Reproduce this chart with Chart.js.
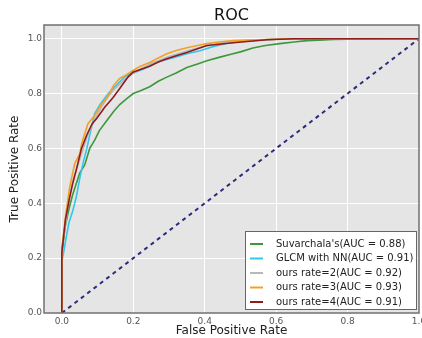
<!DOCTYPE html>
<html>
<head>
<meta charset="utf-8">
<script src="https://cdn.jsdelivr.net/npm/chart.js@4"></script>
<style>
  html, body { margin: 0; padding: 0; background: #fff; }
  #wrap { width: 422px; height: 338px; }
</style>
</head>
<body>
<div id="wrap"><canvas id="myChart" width="422" height="338"></canvas></div>
<script>
// ROC curves
const suvX = [0, 0, 0.005, 0.01, 0.02, 0.03, 0.04, 0.05, 0.064, 0.078, 0.092, 0.105, 0.125, 0.145, 0.162, 0.18, 0.2, 0.22, 0.246, 0.27, 0.294, 0.32, 0.35, 0.38, 0.406, 0.44, 0.479, 0.5, 0.535, 0.57, 0.61, 0.65, 0.686, 0.72, 0.76, 0.8, 0.9, 1.0];
const suvY = [0, 0.22, 0.27, 0.32, 0.38, 0.43, 0.47, 0.51, 0.54, 0.6, 0.63, 0.665, 0.7, 0.735, 0.76, 0.78, 0.8, 0.81, 0.825, 0.845, 0.86, 0.875, 0.895, 0.908, 0.92, 0.932, 0.945, 0.952, 0.966, 0.975, 0.982, 0.988, 0.993, 0.995, 0.997, 0.998, 1.0, 1.0];

const glcmX = [0, 0, 0.005, 0.01, 0.02, 0.03, 0.04, 0.05, 0.06, 0.07, 0.08, 0.092, 0.107, 0.13, 0.16, 0.18, 0.2, 0.23, 0.256, 0.28, 0.31, 0.35, 0.387, 0.42, 0.46, 0.5, 0.55, 0.6, 0.7, 1.0];
const glcmY = [0, 0.19, 0.22, 0.26, 0.33, 0.37, 0.42, 0.49, 0.55, 0.6, 0.66, 0.727, 0.76, 0.8, 0.84, 0.865, 0.875, 0.89, 0.91, 0.92, 0.93, 0.945, 0.956, 0.97, 0.983, 0.99, 0.995, 0.998, 1.0, 1.0];

const r2X = [0, 0, 0.01, 0.02, 0.03, 0.05, 0.07, 0.09, 0.11, 0.13, 0.15, 0.18, 0.2, 0.25, 0.3, 0.35, 0.4, 0.45, 0.5, 0.6, 0.7, 1.0];
const r2Y = [0, 0.24, 0.32, 0.42, 0.48, 0.56, 0.64, 0.7, 0.75, 0.79, 0.82, 0.855, 0.875, 0.91, 0.935, 0.955, 0.972, 0.985, 0.992, 0.998, 1.0, 1.0];

const r3X = [0, 0, 0.005, 0.01, 0.022, 0.036, 0.05, 0.056, 0.073, 0.092, 0.11, 0.126, 0.145, 0.162, 0.18, 0.199, 0.22, 0.246, 0.27, 0.294, 0.32, 0.35, 0.38, 0.406, 0.44, 0.479, 0.52, 0.574, 0.65, 1.0];
const r3Y = [0, 0.23, 0.29, 0.35, 0.46, 0.545, 0.58, 0.62, 0.69, 0.72, 0.76, 0.785, 0.83, 0.855, 0.868, 0.884, 0.9, 0.913, 0.93, 0.945, 0.957, 0.967, 0.975, 0.982, 0.988, 0.993, 0.995, 0.997, 1.0, 1.0];

const r4X = [0, 0, 0.005, 0.01, 0.02, 0.03, 0.04, 0.055, 0.07, 0.085, 0.098, 0.12, 0.143, 0.16, 0.171, 0.185, 0.199, 0.22, 0.246, 0.27, 0.294, 0.32, 0.35, 0.38, 0.406, 0.44, 0.48, 0.574, 0.65, 1.0];
const r4Y = [0, 0.22, 0.28, 0.34, 0.41, 0.47, 0.52, 0.6, 0.65, 0.69, 0.71, 0.75, 0.785, 0.815, 0.835, 0.86, 0.878, 0.888, 0.9, 0.915, 0.927, 0.938, 0.95, 0.963, 0.975, 0.98, 0.985, 0.996, 1.0, 1.0];

const chanceX = [0, 1];
const chanceY = [0, 1];

const labels = [
  "Suvarchala's(AUC = 0.88)",
  "GLCM with NN(AUC = 0.91)",
  "ours rate=2(AUC = 0.92)",
  "ours rate=3(AUC = 0.93)",
  "ours rate=4(AUC = 0.91)",
];
const colors = ["#3c983c", "#35c6ec", "#b8b8b8", "#f2a02a", "#8e1c1c"];
const tickVals = [0, 0.2, 0.4, 0.6, 0.8, 1.0];

const pts = (xs, ys) => xs.map((x, i) => ({ x: x, y: ys[i] }));

const series = [[suvX, suvY], [glcmX, glcmY], [r2X, r2Y], [r3X, r3Y], [r4X, r4Y]];
const datasets = series.map((s, i) => ({
  label: labels[i],
  data: pts(s[0], s[1]),
  borderColor: colors[i],
  borderWidth: 1.6,
  pointRadius: 0,
  showLine: true,
  tension: 0,
  order: 5 - i,
}));
datasets.push({
  label: "chance",
  data: pts(chanceX, chanceY),
  borderColor: "#2b2b7e",
  borderWidth: 2,
  borderDash: [4, 4],
  pointRadius: 0,
  showLine: true,
  order: 10,
});

const frame = {
  id: "frame",
  beforeDraw(chart) {
    const a = chart.chartArea;
    const c = chart.ctx;
    c.save();
    c.fillStyle = "#e5e5e5";
    c.fillRect(a.left, a.top, a.right - a.left, a.bottom - a.top);
    c.restore();
  },
  afterDraw(chart) {
    const a = chart.chartArea;
    const c = chart.ctx;
    c.save();
    c.strokeStyle = "#707070";
    c.lineWidth = 1.5;
    c.strokeRect(a.left, a.top, a.right - a.left, a.bottom - a.top);

    // title
    c.fillStyle = "#111";
    c.font = "16px 'DejaVu Sans'";
    c.textAlign = "center";
    c.textBaseline = "middle";
    c.fillText("ROC", (a.left + a.right) / 2, 16);

    // legend
    const bx = 245, by = 231, bw = 171, bh = 78;
    c.fillStyle = "#fff";
    c.fillRect(bx, by, bw, bh);
    c.strokeStyle = "#666";
    c.lineWidth = 1;
    c.strokeRect(bx + 0.5, by + 0.5, bw, bh);
    c.font = "10px 'DejaVu Sans'";
    c.textAlign = "left";
    labels.forEach((t, i) => {
      const y = 244 + i * 14.5;
      c.strokeStyle = colors[i];
      c.lineWidth = 2;
      c.beginPath();
      c.moveTo(250, y);
      c.lineTo(263, y);
      c.stroke();
      c.fillStyle = "#222";
      c.fillText(t, 276, y);
    });
    c.restore();
  },
};

const setTicks = (scale) => {
  scale.ticks = tickVals.map((v) => ({ value: v }));
};

new Chart(document.getElementById("myChart"), {
  type: "scatter",
  data: { datasets: datasets },
  plugins: [frame],
  options: {
    responsive: false,
    animation: false,
    layout: { padding: { top: 25, right: 3, left: 0, bottom: 0 } },
    plugins: {
      legend: { display: false },
      title: { display: false },
      tooltip: { enabled: false },
    },
    scales: {
      x: {
        type: "linear",
        min: -0.05,
        max: 1.0,
        afterBuildTicks: setTicks,
        afterFit(scale) {
          scale.height = 25;
          scale.paddingLeft = 0;
          scale.paddingRight = 0;
        },
        grid: { color: "#ffffff", lineWidth: 1, drawTicks: false },
        border: { display: false },
        ticks: {
          padding: 3,
          color: "#555",
          font: { family: "DejaVu Sans", size: 9 },
          callback: (v) => v.toFixed(1),
        },
        title: {
          display: true,
          text: "False Positive Rate",
          color: "#222",
          font: { family: "DejaVu Sans", size: 12 },
          padding: { top: 1, bottom: 0 },
        },
      },
      y: {
        type: "linear",
        min: 0,
        max: 1.05,
        afterBuildTicks: setTicks,
        afterFit(scale) {
          scale.width = 44;
          scale.paddingTop = 0;
          scale.paddingBottom = 0;
        },
        grid: { color: "#ffffff", lineWidth: 1, drawTicks: false },
        border: { display: false },
        ticks: {
          padding: 2,
          color: "#555",
          font: { family: "DejaVu Sans", size: 9 },
          callback: (v) => v.toFixed(1),
        },
        title: {
          display: true,
          text: "True Positive Rate",
          color: "#222",
          font: { family: "DejaVu Sans", size: 12 },
          padding: { top: 8, bottom: 0 },
        },
      },
    },
  },
});
</script>
</body>
</html>
